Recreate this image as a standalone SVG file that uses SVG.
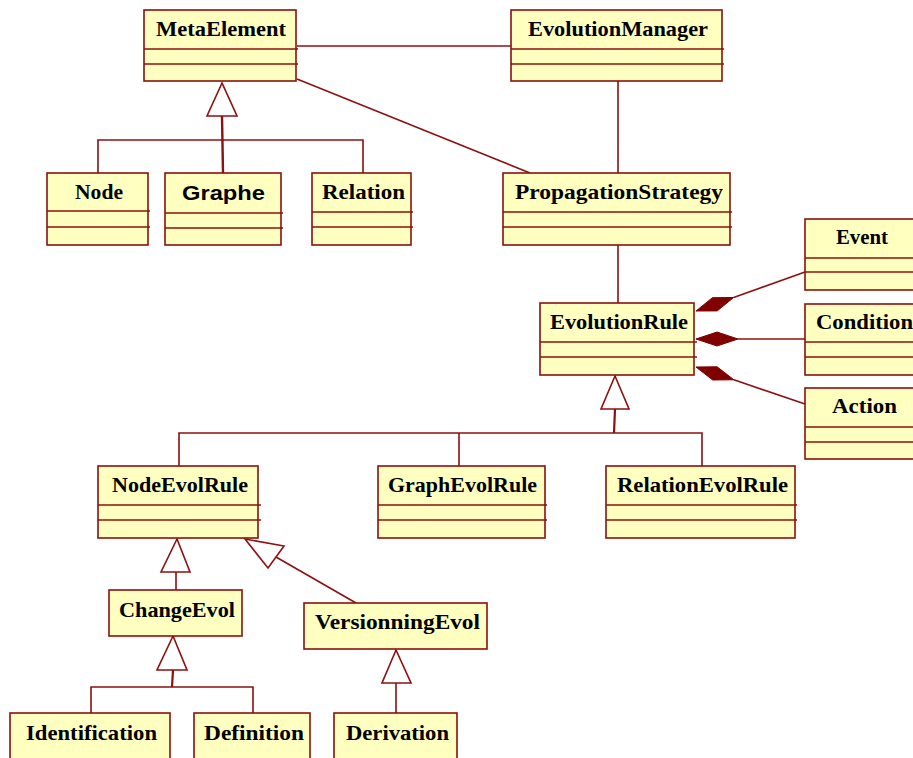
<svg xmlns="http://www.w3.org/2000/svg" width="913" height="758" viewBox="0 0 913 758">
<defs>
<style>
.box{fill:#FFFFC0;stroke:#8B1010;stroke-width:1.6}
.sep{stroke:#8B1010;stroke-width:1.6}
.t{font-family:"Liberation Serif","Times New Roman",serif;font-weight:bold;font-size:21px;fill:#000}
.ts{font-family:"Liberation Sans",Arial,sans-serif;font-weight:bold;font-size:21px;fill:#000}
.c{stroke:#8B1010;stroke-width:1.6;fill:none}
.tri{fill:#fff;stroke:#8B1010;stroke-width:1.6}
.dia{fill:#800000;stroke:#800000;stroke-width:1}
</style>
</defs>
<rect width="913" height="758" fill="#fff"/>

<g id="connectors">
<line class="c" x1="297" y1="46" x2="511" y2="46"/>
<line class="c" x1="297" y1="79" x2="530" y2="173"/>
<line class="c" x1="618" y1="81" x2="618" y2="173"/>
<line class="c" x1="618" y1="245" x2="618" y2="303"/>
<polyline class="c" points="98,173 98,140 363,140 363,173"/>
<line class="c" x1="222" y1="116" x2="223" y2="173" style="stroke-width:2.4"/>
<polygon class="tri" points="222,83 207,116 237,116"/>
<line class="c" x1="733.6" y1="297.5" x2="805" y2="272"/>
<polygon class="dia" points="696,311 712.4,297.7 733.6,297.5 717.2,310.9"/>
<line class="c" x1="738" y1="339" x2="805" y2="339"/>
<polygon class="dia" points="696,339 717,332 738,339 717,346"/>
<line class="c" x1="733.9" y1="379.8" x2="805" y2="404"/>
<polygon class="dia" points="696,367 717.1,366.8 733.9,379.8 712.7,380"/>
<polyline class="c" points="179,466 179,433 702,433 702,466"/>
<line class="c" x1="459" y1="433" x2="459" y2="466"/>
<line class="c" x1="615" y1="409" x2="614" y2="433" style="stroke-width:2.2"/>
<polygon class="tri" points="615,376 601,409 629,409"/>
<line class="c" x1="176" y1="572" x2="176" y2="590"/>
<polygon class="tri" points="177,539 161,572 190,572"/>
<line class="c" x1="276" y1="557" x2="356" y2="603"/>
<polygon class="tri" points="245,539 284,546 268,568"/>
<polyline class="c" points="91,713 91,687 253,687 253,713"/>
<line class="c" x1="173" y1="670" x2="172" y2="687" style="stroke-width:2.2"/>
<polygon class="tri" points="173,636 157,670 187,670"/>
<line class="c" x1="396" y1="683" x2="396" y2="713"/>
<polygon class="tri" points="396,650 382,683 411,683"/>
</g>

<g id="MetaElement">
<rect class="box" x="144" y="10" width="152" height="71"/>
<line class="sep" x1="144" y1="49" x2="298" y2="49"/>
<line class="sep" x1="144" y1="64" x2="298" y2="64"/>
<text class="t" x="156" y="36" textLength="130" lengthAdjust="spacingAndGlyphs">MetaElement</text>
</g>
<g id="EvolutionManager">
<rect class="box" x="511" y="10" width="211" height="71"/>
<line class="sep" x1="511" y1="49" x2="724" y2="49"/>
<line class="sep" x1="511" y1="64" x2="724" y2="64"/>
<text class="t" x="528" y="36" textLength="180" lengthAdjust="spacingAndGlyphs">EvolutionManager</text>
</g>
<g id="Node">
<rect class="box" x="47" y="173" width="101" height="72"/>
<line class="sep" x1="47" y1="211" x2="150" y2="211"/>
<line class="sep" x1="47" y1="227" x2="150" y2="227"/>
<text class="t" x="75" y="199" textLength="48" lengthAdjust="spacingAndGlyphs">Node</text>
</g>
<g id="Graphe">
<rect class="box" x="165" y="173" width="116" height="72"/>
<line class="sep" x1="165" y1="213" x2="283" y2="213"/>
<line class="sep" x1="165" y1="228" x2="283" y2="228"/>
<text class="ts" x="182" y="200" textLength="83" lengthAdjust="spacingAndGlyphs">Graphe</text>
</g>
<g id="Relation">
<rect class="box" x="312" y="173" width="99" height="72"/>
<line class="sep" x1="312" y1="212" x2="413" y2="212"/>
<line class="sep" x1="312" y1="227" x2="413" y2="227"/>
<text class="t" x="322" y="199" textLength="83" lengthAdjust="spacingAndGlyphs">Relation</text>
</g>
<g id="PropagationStrategy">
<rect class="box" x="503" y="173" width="227" height="72"/>
<line class="sep" x1="503" y1="212" x2="732" y2="212"/>
<line class="sep" x1="503" y1="227" x2="732" y2="227"/>
<text class="t" x="515" y="199" textLength="208" lengthAdjust="spacingAndGlyphs">PropagationStrategy</text>
</g>
<g id="EvolutionRule">
<rect class="box" x="540" y="303" width="154" height="72"/>
<line class="sep" x1="540" y1="342" x2="697" y2="342"/>
<line class="sep" x1="540" y1="357" x2="697" y2="357"/>
<text class="t" x="550" y="329" textLength="138" lengthAdjust="spacingAndGlyphs">EvolutionRule</text>
</g>
<g id="Event">
<rect class="box" x="805" y="219" width="120" height="71"/>
<line class="sep" x1="805" y1="258" x2="925" y2="258"/>
<line class="sep" x1="805" y1="272" x2="925" y2="272"/>
<text class="t" x="836" y="244" textLength="52" lengthAdjust="spacingAndGlyphs">Event</text>
</g>
<g id="Condition">
<rect class="box" x="805" y="304" width="120" height="71"/>
<line class="sep" x1="805" y1="342" x2="925" y2="342"/>
<line class="sep" x1="805" y1="357" x2="925" y2="357"/>
<text class="t" x="816" y="329" textLength="97" lengthAdjust="spacingAndGlyphs">Condition</text>
</g>
<g id="Action">
<rect class="box" x="805" y="388" width="120" height="71"/>
<line class="sep" x1="805" y1="427" x2="925" y2="427"/>
<line class="sep" x1="805" y1="442" x2="925" y2="442"/>
<text class="t" x="832" y="413" textLength="65" lengthAdjust="spacingAndGlyphs">Action</text>
</g>
<g id="NodeEvolRule">
<rect class="box" x="98" y="466" width="160" height="72"/>
<line class="sep" x1="98" y1="505" x2="261" y2="505"/>
<line class="sep" x1="98" y1="520" x2="261" y2="520"/>
<text class="t" x="112" y="492" textLength="136" lengthAdjust="spacingAndGlyphs">NodeEvolRule</text>
</g>
<g id="GraphEvolRule">
<rect class="box" x="378" y="466" width="167" height="72"/>
<line class="sep" x1="378" y1="505" x2="547" y2="505"/>
<line class="sep" x1="378" y1="520" x2="547" y2="520"/>
<text class="t" x="388" y="492" textLength="149" lengthAdjust="spacingAndGlyphs">GraphEvolRule</text>
</g>
<g id="RelationEvolRule">
<rect class="box" x="606" y="466" width="189" height="72"/>
<line class="sep" x1="606" y1="505" x2="797" y2="505"/>
<line class="sep" x1="606" y1="520" x2="797" y2="520"/>
<text class="t" x="617" y="492" textLength="171" lengthAdjust="spacingAndGlyphs">RelationEvolRule</text>
</g>
<g id="ChangeEvol">
<rect class="box" x="109" y="590" width="133" height="46"/>
<text class="t" x="119" y="617" textLength="116" lengthAdjust="spacingAndGlyphs">ChangeEvol</text>
</g>
<g id="VersionningEvol">
<rect class="box" x="304" y="603" width="183" height="46"/>
<text class="t" x="315" y="629" textLength="165" lengthAdjust="spacingAndGlyphs">VersionningEvol</text>
</g>
<g id="Identification">
<rect class="box" x="10" y="713" width="160" height="60"/>
<text class="t" x="26" y="740" textLength="131" lengthAdjust="spacingAndGlyphs">Identification</text>
</g>
<g id="Definition">
<rect class="box" x="194" y="713" width="116" height="60"/>
<text class="t" x="204" y="740" textLength="100" lengthAdjust="spacingAndGlyphs">Definition</text>
</g>
<g id="Derivation">
<rect class="box" x="334" y="713" width="123" height="60"/>
<text class="t" x="346" y="740" textLength="103" lengthAdjust="spacingAndGlyphs">Derivation</text>
</g>
</svg>
